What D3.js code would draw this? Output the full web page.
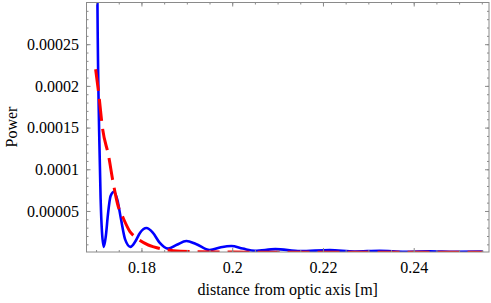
<!DOCTYPE html>
<html>
<head>
<meta charset="utf-8">
<script src="https://cdn.jsdelivr.net/npm/d3@7"></script>
<style>
  body { margin: 0; background: #fff; }
  svg, svg text { font-family: "Liberation Serif", "Times New Roman", "DejaVu Serif", serif; }
</style>
</head>
<body>
<div class="chart"></div>
<script>
// blue curve (solid)
const blueX = [0.17000, 0.17030, 0.17067, 0.17100, 0.17130, 0.17171, 0.17215, 0.17260, 0.17320, 0.17397,
  0.17470, 0.17550, 0.17640, 0.17758, 0.17860, 0.17970, 0.18110, 0.18250, 0.18400, 0.18586,
  0.18780, 0.18991, 0.19200, 0.19504, 0.19750, 0.19980, 0.20230, 0.20500, 0.20950, 0.21500,
  0.22150, 0.22700, 0.23250, 0.23800, 0.24350, 0.24900, 0.25530];
const blueY = [0.00060, 0.00030, 0.000147, 0.000065, 0.000025, 0.000007, 0.000020, 0.000045, 0.000068, 0.000073,
  0.000063, 0.000040, 0.000016, 0.000007, 0.000013, 0.000024, 0.0000295, 0.000024, 0.000012, 0.0000048,
  0.0000095, 0.000014, 0.0000105, 0.0000032, 0.0000065, 0.000008, 0.000005, 0.0000022, 0.0000042, 0.0000018,
  0.0000030, 0.0000014, 0.0000022, 0.0000011, 0.0000016, 0.0000010, 0.0000012];

// red curve (dashed)
const redX = [0.16990, 0.17060, 0.17140, 0.17280, 0.17370, 0.17490, 0.17570, 0.17750, 0.17860, 0.18150,
  0.18270, 0.18700, 0.19200, 0.20000, 0.21000, 0.23000, 0.25530];
const redY = [0.000220, 0.000190, 0.000150, 0.000115, 0.000086, 0.000055, 0.000045, 0.000025, 0.000019, 0.0000092,
  0.000007, 0.0000024, 0.0000012, 0.0000007, 0.0000006, 0.0000006, 0.0000006];

const xTicks = [0.18, 0.2, 0.22, 0.24];
const xTickLabels = ["0.18", "0.2", "0.22", "0.24"];
const yTicks = [0.00005, 0.0001, 0.00015, 0.0002, 0.00025];
const yTickLabels = ["0.00005", "0.0001", "0.00015", "0.0002", "0.00025"];

const width = 491, height = 303;
const margin = {top: 2.5, right: 2, bottom: 51, left: 86.5};
const serif = "Liberation Serif, Times New Roman, DejaVu Serif, serif";

const x = d3.scaleLinear()
    .domain([0.16789, 0.25659])
    .range([margin.left, width - margin.right]);
const y = d3.scaleLinear()
    .domain([0.0000008, 0.0003])
    .range([height - margin.bottom, margin.top]);

const svg = d3.select(".chart").append("svg")
    .attr("width", width)
    .attr("height", height)
    .attr("font-family", serif)
    .attr("viewBox", [0, 0, width, height]);

svg.append("defs").append("clipPath")
    .attr("id", "clip")
  .append("rect")
    .attr("x", margin.left)
    .attr("y", margin.top)
    .attr("width", width - margin.left - margin.right)
    .attr("height", height - margin.top - margin.bottom);

const line = d3.line()
    .curve(d3.curveMonotoneX)
    .x(d => x(d[0]))
    .y(d => y(d[1]));

const plot = svg.append("g").attr("clip-path", "url(#clip)");

plot.append("path")
    .attr("fill", "none")
    .attr("stroke", "#0000ff")
    .attr("stroke-width", 2.6)
    .attr("stroke-linejoin", "round")
    .attr("d", line(d3.zip(blueX, blueY)));

plot.append("path")
    .attr("fill", "none")
    .attr("stroke", "#ff0000")
    .attr("stroke-width", 3)
    .attr("stroke-dasharray", "22,8")
    .attr("d", line(d3.zip(redX, redY)));

// frame with inward ticks on all four sides
const frame = "#8a8a8a";
const xMinor = d3.range(0.17, 0.2566, 0.005);
const yMinor = d3.range(0.00001, 0.0003, 0.00001);
const bottomY = height - margin.bottom;
const rightX = width - margin.right;

function ticks(axis, pos, labelled) {
  svg.append("g")
      .attr("transform", pos)
      .attr("font-family", serif)
      .call(axis)
      .call(g => g.select(".domain").remove())
      .call(g => g.selectAll("line").attr("stroke", frame))
      .call(g => labelled && g.selectAll("text")
          .attr("font-size", 16)
          .attr("fill", "#000")
          .attr("font-family", serif));
}

ticks(d3.axisBottom(x).tickValues(xMinor).tickSize(-2).tickFormat(""), `translate(0,${bottomY})`);
ticks(d3.axisBottom(x).tickValues(xTicks).tickSize(-4).tickPadding(10)
    .tickFormat((d, i) => xTickLabels[i]), `translate(0,${bottomY})`, true);
ticks(d3.axisTop(x).tickValues(xMinor).tickSize(-2).tickFormat(""), `translate(0,${margin.top})`);
ticks(d3.axisTop(x).tickValues(xTicks).tickSize(-4).tickFormat(""), `translate(0,${margin.top})`);

ticks(d3.axisLeft(y).tickValues(yMinor).tickSize(-2).tickFormat(""), `translate(${margin.left},0)`);
ticks(d3.axisLeft(y).tickValues(yTicks).tickSize(-4).tickPadding(7.5)
    .tickFormat((d, i) => yTickLabels[i]), `translate(${margin.left},0)`, true);
ticks(d3.axisRight(y).tickValues(yMinor).tickSize(-2).tickFormat(""), `translate(${rightX},0)`);
ticks(d3.axisRight(y).tickValues(yTicks).tickSize(-4).tickFormat(""), `translate(${rightX},0)`);

svg.append("rect")
    .attr("x", margin.left)
    .attr("y", margin.top)
    .attr("width", rightX - margin.left)
    .attr("height", bottomY - margin.top)
    .attr("fill", "none")
    .attr("stroke", frame)
    .attr("stroke-width", 1);

svg.append("text")
    .attr("x", (margin.left + rightX) / 2)
    .attr("y", 295)
    .attr("text-anchor", "middle")
    .attr("font-size", 16)
    .text("distance from optic axis [m]");

svg.append("text")
    .attr("transform", "translate(17,127) rotate(-90)")
    .attr("text-anchor", "middle")
    .attr("font-size", 16)
    .text("Power");
</script>
</body>
</html>
